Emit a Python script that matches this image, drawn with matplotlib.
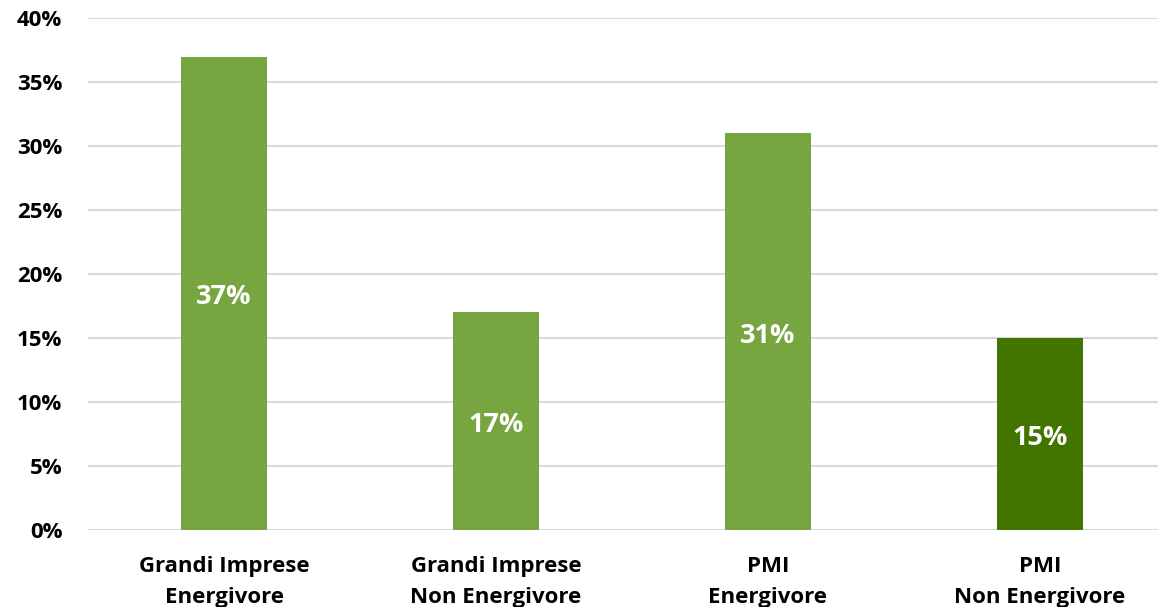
import numpy as np
import matplotlib.pyplot as plt
from matplotlib.ticker import FuncFormatter

categories = ['Grandi Imprese\nEnergivore', 'Grandi Imprese\nNon Energivore',
              'PMI\nEnergivore', 'PMI\nNon Energivore']
values = [37, 17, 31, 15]
colors = ['#77A540', '#77A540', '#77A540', '#427500']

plt.rcParams['font.family'] = ['Open Sans', 'DejaVu Sans']

fig = plt.figure(figsize=(11.58, 6.07), dpi=100)
ax = fig.add_axes([0.076, 0.127, 0.924, 0.843])

x = np.arange(len(categories))
bars = ax.bar(x, values, width=0.316, color=colors, zorder=3)

for b, v in zip(bars, values):
    ax.annotate(f'{v}%', (b.get_x() + b.get_width() / 2, v / 2), xytext=(0, -3),
                textcoords='offset points', ha='center', va='center',
                color='white', fontsize=19.5, fontweight='bold', zorder=4)

ax.set_ylim(0, 40)
ax.set_yticks(np.arange(0, 41, 5))
ax.yaxis.set_major_formatter(FuncFormatter(lambda v, p: f'{v:.0f}%'))
ax.set_xlim(-0.5, 3.434)
ax.set_xticks(x)
ax.set_xticklabels(categories, fontsize=16, fontweight='bold', linespacing=1.6)
for lab in ax.get_yticklabels():
    lab.set_fontsize(16)
    lab.set_fontweight('bold')

ax.grid(axis='y', color='#D9D9D9', linewidth=1.5, zorder=0)
for s in ax.spines.values():
    s.set_visible(False)
ax.tick_params(length=0)
ax.tick_params(axis='y', pad=18.5)
ax.tick_params(axis='x', pad=19)

fig.savefig('out.png', dpi=100)
